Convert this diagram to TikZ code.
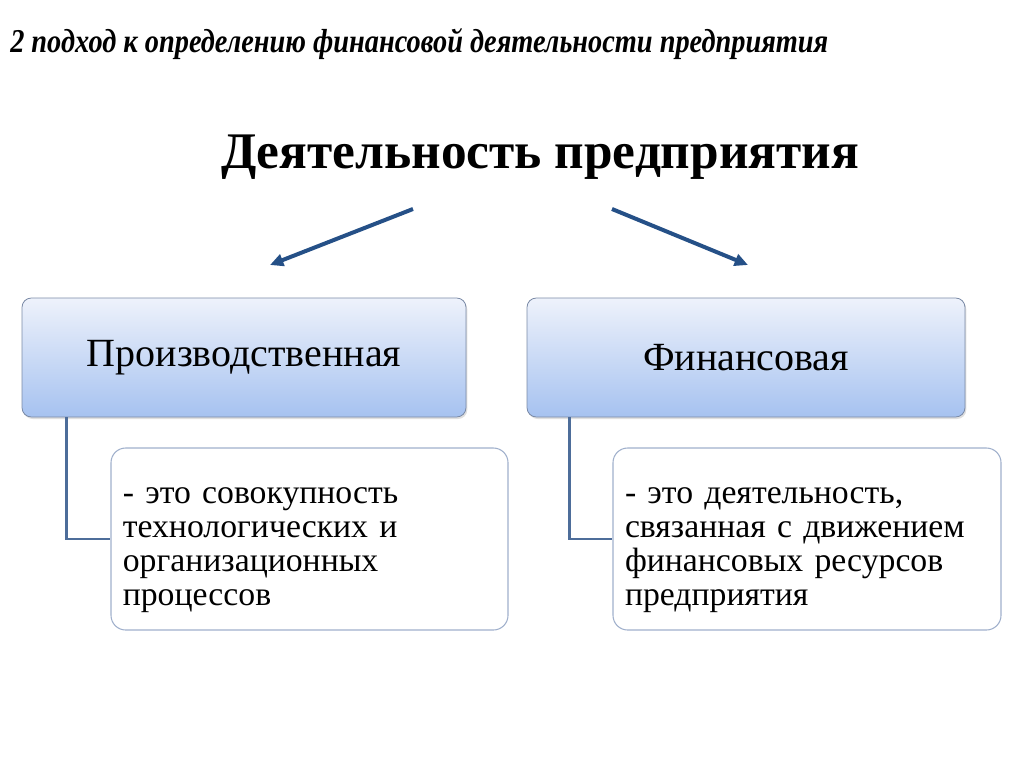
\documentclass[tikz,border=0pt]{standalone}
\usepackage{fontspec}
\setmainfont{Liberation Serif}
\newfontfamily\headfont[FakeStretch=0.85]{Liberation Serif}
\usetikzlibrary{positioning,calc,arrows.meta,shadows}
\definecolor{arrowblue}{RGB}{37,80,135}
\definecolor{connblue}{RGB}{77,109,154}
\definecolor{topfill}{RGB}{238,242,251}
\definecolor{botfill}{RGB}{166,194,240}
\definecolor{kindedge}{RGB}{122,138,166}
\definecolor{noteedge}{RGB}{160,176,204}
\tikzset{
	kindbox/.style={draw=kindedge, line width=0.6pt, rounded corners=7pt,
		top color=topfill, bottom color=botfill, minimum height=89.25pt,
		font=\fontsize{30}{34}\selectfont,
		drop shadow={opacity=0.25, shadow xshift=1pt, shadow yshift=-1.5pt}},
	notebox/.style={draw=noteedge, line width=0.8pt, rounded corners=11pt, fill=white,
		minimum height=136.5pt, align=left, anchor=center,
		font=\fontsize{25.3}{25.5}\selectfont,
		execute at begin node={\rule{0pt}{28pt}}},
	bigarrow/.style={arrowblue, line width=3pt, -{Triangle[length=10pt,width=9pt]}},
	linkline/.style={connblue, line width=2pt}
}

\begin{document}
\begin{tikzpicture}[x=0.75pt, y=-0.75pt]
	\useasboundingbox (0,0) rectangle (1024,767);
	\node[anchor=west, inner sep=0pt] (head) at (10,44)
		{\headfont\fontsize{25}{28}\selectfont\bfseries\itshape 2 подход к определению финансовой деятельности предприятия};
	\node[inner sep=0pt, font=\fontsize{38.5}{44}\selectfont\bfseries] (title) at (540,157) {Деятельность предприятия};

	\node[kindbox, minimum width=333pt] (prod) at (244,357.5) {Производственная};
	\node[kindbox, minimum width=328.5pt] (fin) at (746,357.5) {Финансовая};

	\node[notebox, minimum width=297.75pt, text width=280pt] (prodnote) at (309.5,539)
		{- это совокупность\\технологических и\\организационных\\процессов};
	\node[notebox, minimum width=291pt, text width=273pt] (finnote) at (807,539)
		{- это деятельность,\\связанная с движением\\финансовых ресурсов\\предприятия};

	\coordinate (la) at (413,209);
	\coordinate (lb) at (270,265);
	\coordinate (ra) at (612,209);
	\coordinate (rb) at (748,265);
	\draw[bigarrow] (la) -- (lb);
	\draw[bigarrow] (ra) -- (rb);

	\draw[linkline] ([xshift=33.75pt]prod.south west) |- (prodnote.west);
	\draw[linkline] ([xshift=32.25pt]fin.south west) |- (finnote.west);
\end{tikzpicture}
\end{document}
